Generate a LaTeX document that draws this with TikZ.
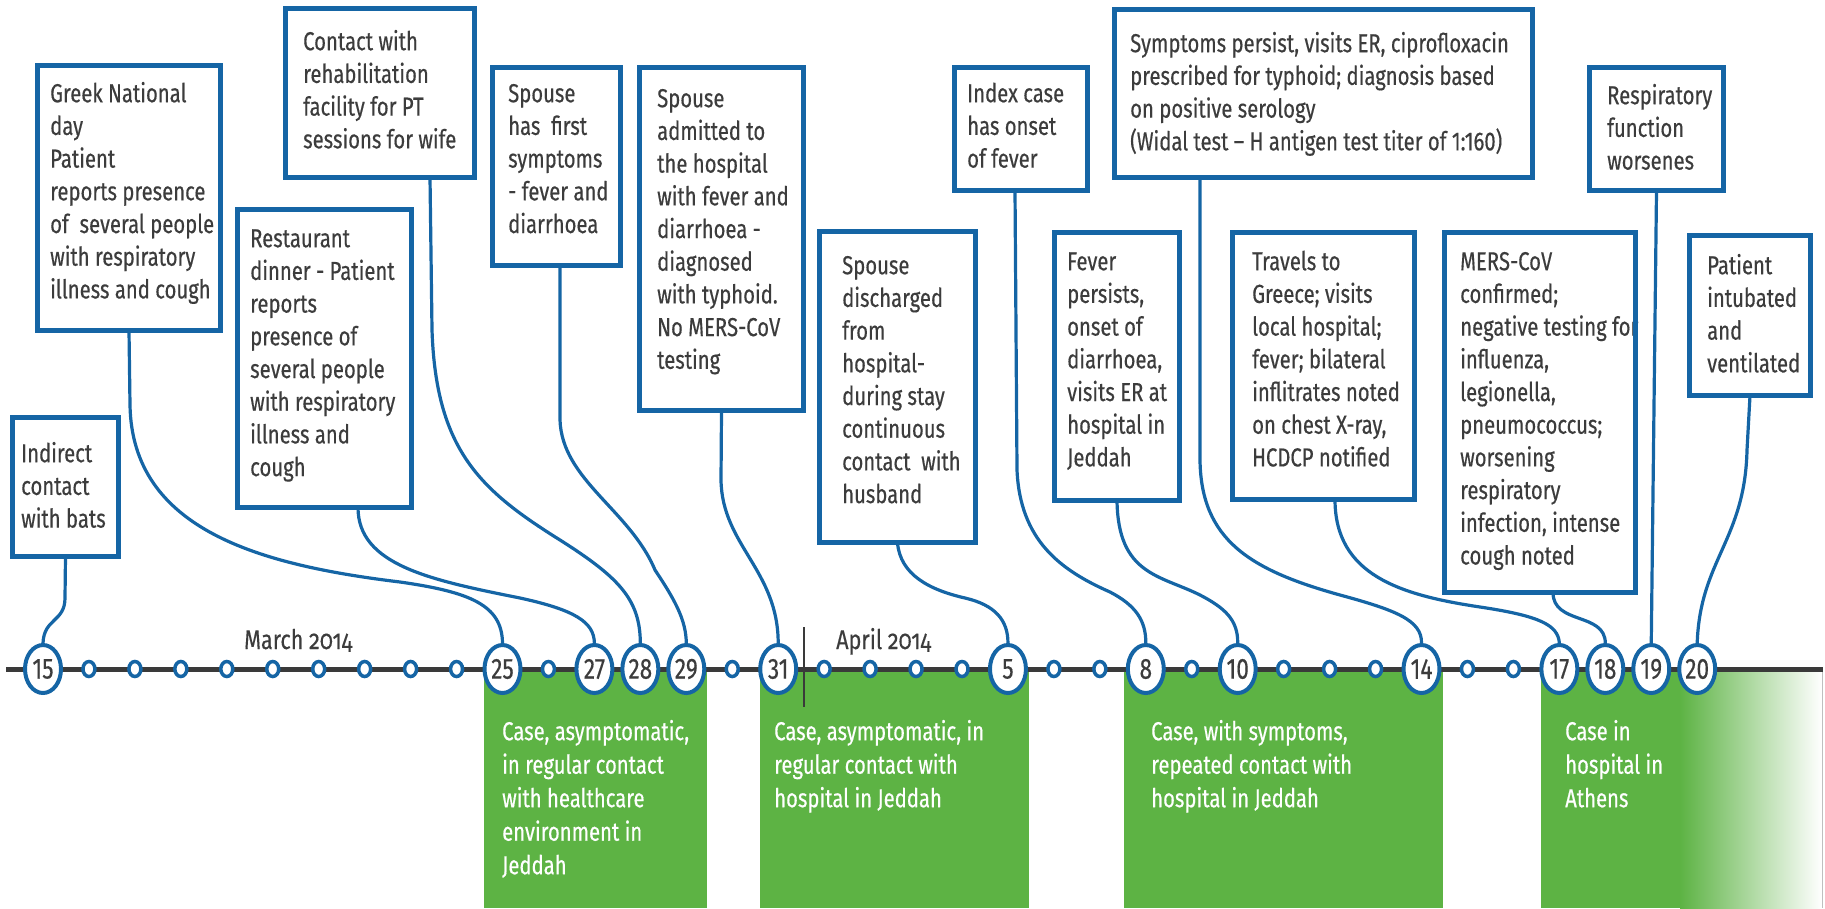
\documentclass[tikz,border=0pt]{standalone}
\usepackage{fontspec}
\setmainfont[FakeStretch=0.78,FakeBold=0.4]{Fira Sans}
\newfontfamily\oldnumfont[FakeStretch=0.8,FakeBold=0.3,Numbers=OldStyle]{Fira Sans}
\usetikzlibrary{shapes.geometric}
\definecolor{ecblue}{HTML}{1565A5}
\definecolor{ecgreen}{HTML}{5DB344}
\definecolor{txtgray}{HTML}{3C3C3C}
\definecolor{linegray}{HTML}{3A3A3A}
\newcommand{\tstrut}{\rule{0pt}{24pt}}
\newcommand{\evfont}{\fontsize{26}{32.7}\selectfont}
\newcommand{\grfont}{\fontsize{26}{33.5}\selectfont}
\newcommand{\evbox}[5]{\node[boxfill, minimum width={#4-#2-5}, minimum height={#5-#3-5}] (#1) at ({#2+2.5},{#3+2.5}) {};}
\newcommand{\evborder}[1]{\draw[boxline] (#1.south west) rectangle (#1.north east);}
\tikzset{
 boxfill/.style={draw=none, fill=white, inner sep=0pt, outer sep=0pt, anchor=north west},
 boxline/.style={draw=ecblue, line width=5pt},
 evtxt/.style={anchor=north west, inner sep=0pt, align=left, font=\evfont, text=txtgray},
 grtxt/.style={anchor=north west, inner sep=0pt, align=left, font=\grfont, text=white},
 conn/.style={draw=ecblue, line width=3.2pt},
 dateell/.style={ellipse, draw=ecblue, line width=4pt, fill=white, minimum width=36pt, minimum height=48pt, inner sep=0pt, font=\fontsize{29}{29}\selectfont, text=txtgray},
 dotell/.style={ellipse, draw=ecblue, line width=3.5pt, fill=white, minimum width=12pt, minimum height=15pt, inner sep=0pt},
 greenbox/.style={fill=ecgreen, draw=none},
 monthlab/.style={anchor=base west, inner sep=0pt, font=\oldnumfont\fontsize{27}{27}\selectfont, text=txtgray},
}
\begin{document}
\begin{tikzpicture}[x=1pt,y=-1pt]
\useasboundingbox (0,0) rectangle (1825,908);
% green phases
\fill[greenbox] (484,669) rectangle (707,908);
\fill[greenbox] (760,669) rectangle (1029,908);
\fill[greenbox] (1124,669) rectangle (1443,908);
\fill[greenbox] (1541,669) rectangle (1681,908);
\shade[left color=ecgreen, right color=white] (1680,669) rectangle (1822,908);
\draw[gray!50, line width=1pt] (1822,669) -- (1822,908);
\node[grtxt] (g1) at (502,716) {\tstrut Case, asymptomatic,\\in regular contact\\with healthcare\\environment in\\Jeddah};
\node[grtxt] (g2) at (774,716) {\tstrut Case, asymptomatic, in\\regular contact with\\hospital in Jeddah};
\node[grtxt] (g3) at (1151,716) {\tstrut Case, with symptoms,\\repeated contact with\\hospital in Jeddah};
\node[grtxt] (g4) at (1565,716) {\tstrut Case in\\hospital in\\Athens};
% timeline
\draw[line width=5pt, linegray] (6,669) -- (1823,669);
\draw[linegray, line width=1.2pt] (804,627) -- (804,707);
\node[monthlab] (march) at (244,649) {March 2014};
\node[monthlab] (april) at (836,649) {April 2014};
% day circles
\foreach \i in {1,2,3,4,5,6,7,8,9,11,15,17,18,19,20,22,23,25,27,28,29,31,32}
  {\node[dotell] (s\i) at (43+45.95*\i,669) {};}
\foreach \i/\lab in {0/15,10/25,12/27,13/28,14/29,16/31,21/5,24/8,26/10,30/14,33/17,34/18,35/19,36/20}
  {\node[dateell] (d\lab) at (43+45.95*\i,669) {\lab};}
% event boxes
\evbox{bats}{10}{415}{121}{559}
\evbox{greek}{35}{63}{223}{333}
\evbox{rest}{235}{207}{414}{510}
\evbox{rehab}{283}{6}{477}{180}
\evbox{sympt}{490}{65}{623}{268}
\evbox{admit}{637}{65}{806}{413}
\evbox{disch}{817}{229}{978}{545}
\evbox{index}{952}{65}{1090}{193}
\evbox{persist}{1112}{7}{1535}{180}
\evbox{fever}{1052}{230}{1182}{503}
\evbox{travel}{1230}{230}{1417}{502}
\evbox{mers}{1442}{230}{1638}{595}
\evbox{resp}{1587}{65}{1726}{193}
\evbox{intub}{1687}{233}{1813}{398}
% connectors
\draw[conn] (bats.south) -- (65,598) .. controls (65,622) and (44,618) .. (d15.north);
\draw[conn] (greek.south) -- (130,405) .. controls (132,530) and (260,565) .. (400,582) .. controls (470,592) and (502,605) .. (d25.north);
\draw[conn] ([xshift=33.5pt]rest.south) .. controls (358,565) and (430,580) .. (520,598) .. controls (575,610) and (594,622) .. (d27.north);
\draw[conn] ([xshift=50pt]rehab.south) -- (432,330) .. controls (436,450) and (480,490) .. (560,540) .. controls (620,578) and (640,600) .. (d28.north);
\draw[conn] ([xshift=3.5pt]sympt.south) -- (560,420) .. controls (562,480) and (630,510) .. (655,570) .. controls (675,600) and (686,620) .. (d29.north);
\draw[conn] (admit.south) -- (721,480) .. controls (722,545) and (778,570) .. (d31.north);
\draw[conn] (disch.south) .. controls (900,575) and (930,590) .. (965,598) .. controls (995,605) and (1008,620) .. (d5.north);
\draw[conn] ([xshift=-6pt]index.south) -- (1017,470) .. controls (1020,540) and (1060,570) .. (1110,592) .. controls (1135,605) and (1146,620) .. (d8.north);
\draw[conn] (fever.south) .. controls (1118,575) and (1160,575) .. (1200,595) .. controls (1225,608) and (1238,620) .. (d10.north);
\draw[conn] ([xshift=-123.5pt]persist.south) -- (1200,460) .. controls (1201,540) and (1250,570) .. (1340,595) .. controls (1395,610) and (1422,620) .. (d14.north);
\draw[conn] ([xshift=11.5pt]travel.south) .. controls (1335,575) and (1400,595) .. (1480,607) .. controls (1540,616) and (1558,625) .. (d17.north);
\draw[conn] ([xshift=13pt]mers.south) .. controls (1553,625) and (1605,612) .. (d18.north);
\draw[conn] (resp.south) -- (d19.north);
\draw[conn] (intub.south) -- (1747,450) .. controls (1745,540) and (1700,560) .. (d20.north);
% event texts
\node[evtxt] (batst) at (21,438) {\tstrut Indirect\\contact\\with bats};
\node[evtxt] (greekt) at (50,78) {\tstrut Greek National\\day\\Patient\\reports presence\\of\ \ several people\\with respiratory\\illness and cough};
\node[evtxt] (restt) at (250,223) {\tstrut Restaurant\\dinner - Patient\\reports\\presence of\\several people\\with respiratory\\illness and\\cough};
\node[evtxt] (rehabt) at (303,26) {\tstrut Contact with\\rehabilitation\\facility for PT\\sessions for wife};
\node[evtxt] (samptt) at (508,78) {\tstrut Spouse\\has\ \ first\\symptoms\\- fever and\\diarrhoea};
\node[evtxt] (admitt) at (657,83) {\tstrut Spouse\\admitted to\\the hospital\\with fever and\\diarrhoea -\\diagnosed\\with typhoid.\\No MERS-CoV\\testing};
\node[evtxt] (discht) at (842,250) {\tstrut Spouse\\discharged\\from\\hospital-\\during stay\\continuous\\contact\ \ with\\husband};
\node[evtxt] (indext) at (967,78) {\tstrut Index case\\has onset\\of fever};
\node[evtxt] (persistt) at (1130,28) {\tstrut Symptoms persist, visits ER, ciprofloxacin\\prescribed for typhoid; diagnosis based\\on positive serology\\(Widal test – H antigen test titer of 1:160)};
\node[evtxt] (fevert) at (1067,246) {\tstrut Fever\\persists,\\onset of\\diarrhoea,\\visits ER at\\hospital in\\Jeddah};
\node[evtxt] (travelt) at (1252,246) {\tstrut Travels to\\Greece; visits\\local hospital;\\fever; bilateral\\inflitrates noted\\on chest X-ray,\\HCDCP notified};
\node[evtxt] (merst) at (1460,246) {\tstrut MERS-CoV\\confirmed;\\negative testing for\\influenza,\\legionella,\\pneumococcus;\\worsening\\respiratory\\infection, intense\\cough noted};
\node[evtxt] (respt) at (1607,80) {\tstrut Respiratory\\function\\worsenes};
\node[evtxt] (intubt) at (1707,250) {\tstrut Patient\\intubated\\and\\ventilated};
\foreach \n in {bats,greek,rest,rehab,sympt,admit,disch,index,persist,fever,travel,mers,resp,intub}
  {\evborder{\n}}
\end{tikzpicture}
\end{document}
